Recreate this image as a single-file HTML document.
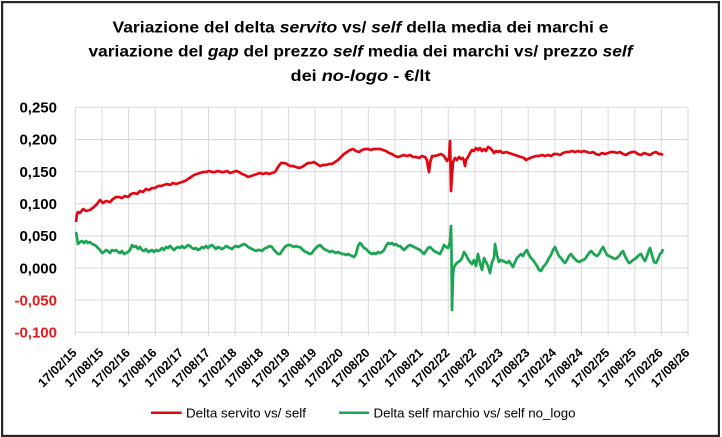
<!DOCTYPE html>
<html><head><meta charset="utf-8">
<style>
html,body{margin:0;padding:0;background:#fff;}
svg{display:block;}
text{font-family:"Liberation Sans",Arial,sans-serif;}
</style></head>
<body>
<svg width="722" height="437" viewBox="0 0 722 437" xmlns="http://www.w3.org/2000/svg">
<rect x="0" y="0" width="722" height="437" fill="#fff"/>
<rect x="2.1" y="2.1" width="716.8" height="433.8" fill="none" stroke="#262626" stroke-width="2.2"/>

<!-- Title -->
<g font-weight="bold" font-size="16" fill="#000" text-anchor="middle">
<text x="360.5" y="32.7" textLength="496" lengthAdjust="spacingAndGlyphs">Variazione del delta <tspan font-style="italic">servito</tspan> vs/ <tspan font-style="italic">self</tspan> della media dei marchi e</text>
<text x="360.5" y="56.5" textLength="544" lengthAdjust="spacingAndGlyphs">variazione del <tspan font-style="italic">gap</tspan> del prezzo <tspan font-style="italic">self</tspan> media dei marchi vs/ prezzo <tspan font-style="italic">self</tspan></text>
<text x="360.5" y="81" textLength="140" lengthAdjust="spacingAndGlyphs">dei <tspan font-style="italic">no-logo</tspan> - €/lt</text>
</g>

<!-- Gridlines -->
<g stroke="#d9d9d9" stroke-width="1">
<line x1="75.3" y1="107.3" x2="688" y2="107.3"/>
<line x1="75.3" y1="139.44" x2="688" y2="139.44"/>
<line x1="75.3" y1="171.59" x2="688" y2="171.59"/>
<line x1="75.3" y1="203.73" x2="688" y2="203.73"/>
<line x1="75.3" y1="235.87" x2="688" y2="235.87"/>
<line x1="75.3" y1="268.01" x2="688" y2="268.01"/>
<line x1="75.3" y1="300.16" x2="688" y2="300.16"/>
<line x1="75.3" y1="332.3" x2="688" y2="332.3"/>
<line x1="75.3" y1="107.3" x2="75.3" y2="336"/>
<line x1="101.94" y1="107.3" x2="101.94" y2="336"/>
<line x1="128.58" y1="107.3" x2="128.58" y2="336"/>
<line x1="155.22" y1="107.3" x2="155.22" y2="336"/>
<line x1="181.86" y1="107.3" x2="181.86" y2="336"/>
<line x1="208.5" y1="107.3" x2="208.5" y2="336"/>
<line x1="235.14" y1="107.3" x2="235.14" y2="336"/>
<line x1="261.78" y1="107.3" x2="261.78" y2="336"/>
<line x1="288.42" y1="107.3" x2="288.42" y2="336"/>
<line x1="315.06" y1="107.3" x2="315.06" y2="336"/>
<line x1="341.7" y1="107.3" x2="341.7" y2="336"/>
<line x1="368.34" y1="107.3" x2="368.34" y2="336"/>
<line x1="394.98" y1="107.3" x2="394.98" y2="336"/>
<line x1="421.62" y1="107.3" x2="421.62" y2="336"/>
<line x1="448.26" y1="107.3" x2="448.26" y2="336"/>
<line x1="474.9" y1="107.3" x2="474.9" y2="336"/>
<line x1="501.54" y1="107.3" x2="501.54" y2="336"/>
<line x1="528.18" y1="107.3" x2="528.18" y2="336"/>
<line x1="554.82" y1="107.3" x2="554.82" y2="336"/>
<line x1="581.46" y1="107.3" x2="581.46" y2="336"/>
<line x1="608.1" y1="107.3" x2="608.1" y2="336"/>
<line x1="634.74" y1="107.3" x2="634.74" y2="336"/>
<line x1="661.38" y1="107.3" x2="661.38" y2="336"/>
<line x1="688.02" y1="107.3" x2="688.02" y2="336"/>
</g>

<!-- Y labels -->
<g font-weight="bold" font-size="15" text-anchor="end">
<text x="57" y="112.6" fill="#000">0,250</text>
<text x="57" y="144.7" fill="#000">0,200</text>
<text x="57" y="176.9" fill="#000">0,150</text>
<text x="57" y="209" fill="#000">0,100</text>
<text x="57" y="241.2" fill="#000">0,050</text>
<text x="57" y="273.3" fill="#000">0,000</text>
<text x="57" y="305.5" fill="#e31b1b">-0,050</text>
<text x="57" y="337.6" fill="#e31b1b">-0,100</text>
</g>

<!-- X labels -->
<g font-weight="bold" font-size="12.5" fill="#000" text-anchor="middle">
<text transform="translate(57.5,367.8) rotate(-45)" dy="4">17/02/15</text>
<text transform="translate(84.14,367.8) rotate(-45)" dy="4">17/08/15</text>
<text transform="translate(110.78,367.8) rotate(-45)" dy="4">17/02/16</text>
<text transform="translate(137.42,367.8) rotate(-45)" dy="4">17/08/16</text>
<text transform="translate(164.06,367.8) rotate(-45)" dy="4">17/02/17</text>
<text transform="translate(190.7,367.8) rotate(-45)" dy="4">17/08/17</text>
<text transform="translate(217.34,367.8) rotate(-45)" dy="4">17/02/18</text>
<text transform="translate(243.98,367.8) rotate(-45)" dy="4">17/08/18</text>
<text transform="translate(270.62,367.8) rotate(-45)" dy="4">17/02/19</text>
<text transform="translate(297.26,367.8) rotate(-45)" dy="4">17/08/19</text>
<text transform="translate(323.9,367.8) rotate(-45)" dy="4">17/02/20</text>
<text transform="translate(350.54,367.8) rotate(-45)" dy="4">17/08/20</text>
<text transform="translate(377.18,367.8) rotate(-45)" dy="4">17/02/21</text>
<text transform="translate(403.82,367.8) rotate(-45)" dy="4">17/08/21</text>
<text transform="translate(430.46,367.8) rotate(-45)" dy="4">17/02/22</text>
<text transform="translate(457.1,367.8) rotate(-45)" dy="4">17/08/22</text>
<text transform="translate(483.74,367.8) rotate(-45)" dy="4">17/02/23</text>
<text transform="translate(510.38,367.8) rotate(-45)" dy="4">17/08/23</text>
<text transform="translate(537.02,367.8) rotate(-45)" dy="4">17/02/24</text>
<text transform="translate(563.66,367.8) rotate(-45)" dy="4">17/08/24</text>
<text transform="translate(590.3,367.8) rotate(-45)" dy="4">17/02/25</text>
<text transform="translate(616.94,367.8) rotate(-45)" dy="4">17/08/25</text>
<text transform="translate(643.58,367.8) rotate(-45)" dy="4">17/02/26</text>
<text transform="translate(670.22,367.8) rotate(-45)" dy="4">17/08/26</text>
</g>

<!-- Red series -->
<polyline fill="none" stroke="#e30613" stroke-width="2.7" stroke-linejoin="round" points="76,222 77,214 78,212 80,213 83,209 86,211 90,210 94,207 97,204 100,200 103,203 106,201 110,202 113,199 116,197 119,197 122,198 125,196 128,197 131,194 134,193 137,194 140,191 143,192 146,189 149,190 152,188 155,188 158,186 161,186 164,185 167,184 170,185 173,183 176,184 179,183 182,182 185,181 188,179 191,177 194,175 197,174 200,173 203,172 206,172 209,171 212,172 215,172 218,171 221,172 224,172 227,171 230,173 233,172 236,171 239,172 242,174 245,175 248,177 251,176 254,175 257,174 260,173 263,174 266,173 269,174 272,173 275,172 278,167 281,163 284,163 287,164 290,166 293,166 296,167 299,168 302,167 305,165 308,163 311,163 314,162 317,164 320,166 323,165 326,165 329,164 332,164 335,162 338,160 341,157 344,154 347,152 350,150 353,149 356,151 359,152 362,150 365,149 368,149 371,150 374,149 377,149 380,149 383,150 386,151 389,153 392,154 395,156 398,157 401,156 404,155 407,156 410,155 413,157 416,157 419,158 422,156 425,157 427,160 428,167 429,172 430,163 432,156 435,156 438,155 441,154 444,156 446,159 447,161 449,158 450,141 450.5,165 451,191 452,175 453,162 455,158 457,160 459,157 461,159 463,158 464,161 465,166 466,160 468,157 470,153 472,150 474,151 476,148 478,150 480,148 482,151 484,149 486,151 488,147 490,148 492,150 494,153 496,151 498,152 500,151 503,153 506,152 509,153 512,154 515,155 518,156 521,157 524,158 526,160 528,159 530,158 533,157 536,156 539,156 542,155 545,156 548,155 551,156 554,154 557,154 560,155 563,153 566,152 569,152 572,151 575,152 578,151 581,152 584,151 587,152 590,153 593,152 596,154 599,155 602,153 605,154 608,153 611,152 614,152 617,153 620,152 623,154 626,155 629,153 632,152 635,152 638,154 641,155 644,153 647,154 650,155 653,153 656,152 659,154 661,154 663,155"/>

<!-- Green series -->
<polyline fill="none" stroke="#1ba552" stroke-width="2.7" stroke-linejoin="round" points="76,232 77,238 78,244 80,242 82,241 84,243 86,241 88,243 90,242 92,244 95,245 98,248 100,250 102,253 104,252 106,250 108,251 110,253 112,250 114,251 116,250 118,252 120,253 122,251 124,254 126,253 128,252 130,250 132,245 134,247 136,246 138,249 140,247 142,250 144,251 146,249 148,252 150,251 152,250 154,252 156,250 158,251 160,250 162,248 164,250 166,247 168,248 170,246 172,248 174,250 176,248 178,247 180,248 182,246 184,248 186,247 188,245 190,246 192,248 194,249 196,248 198,250 200,249 202,247 204,248 206,246 208,248 210,246 212,245 214,247 216,249 218,247 220,248 222,249 224,248 226,246 228,247 230,248 232,249 234,247 236,246 238,247 240,246 242,245 244,244 246,245 248,247 250,248 252,249 254,250 256,251 258,250 260,250 262,251 264,249 266,248 268,247 270,246 272,247 274,250 276,252 278,254 280,254 282,251 284,248 286,246 288,245 290,245 292,246 294,247 296,246 298,247 300,247 302,249 304,251 306,252 308,253 310,254 312,253 314,250 316,248 318,246 320,245 322,247 324,249 326,250 328,251 330,252 332,251 334,252 336,253 338,252 340,253 342,254 344,254 346,255 348,254 350,255 352,256 354,257 356,254 358,246 360,243 362,245 364,248 366,249 368,251 370,253 372,254 374,253 376,254 378,252 380,253 382,252 384,250 386,246 388,243 390,244 392,243 394,245 396,244 398,246 400,246 402,248 404,250 406,248 408,246 410,245 412,246 414,247 416,248 418,249 420,250 422,252 424,254 426,251 428,248 430,247 432,249 434,251 436,252 438,253 440,254 442,250 444,245 446,247 448,248 450,242 451,226 451.5,250 452,310 453,275 454,267 456,264 458,262 460,261 462,258 464,252 466,255 468,259 470,262 472,264 474,260 476,266 478,254 480,263 482,270 484,258 486,262 488,266 490,273 492,262 494,258 495,244 497,255 499,262 501,260 503,261 505,262 507,263 509,261 511,264 513,267 515,262 517,258 519,256 521,254 523,256 525,252 527,250 529,255 531,258 533,260 535,263 537,266 539,270 541,271 543,267 545,265 547,262 549,258 551,255 553,250 555,247 557,252 559,256 561,258 563,261 565,263 567,260 569,256 571,254 573,257 575,259 577,261 579,262 581,261 583,260 585,259 587,256 589,253 591,251 593,253 595,255 597,256 599,254 601,250 603,247 605,251 607,255 609,256 611,257 613,258 615,259 617,258 619,256 621,253 623,251 625,256 627,260 629,263 631,262 633,260 635,259 637,257 639,255 641,254 643,258 645,261 647,256 649,250 650,248 652,255 654,262 656,263 658,259 660,254 662,252 663,249"/>

<!-- Legend -->
<line x1="151" y1="412.7" x2="181.7" y2="412.7" stroke="#e30613" stroke-width="2.5"/>
<text x="186" y="417.3" font-size="13" fill="#000" textLength="120" lengthAdjust="spacingAndGlyphs">Delta servito vs/ self</text>
<line x1="339" y1="412.7" x2="369" y2="412.7" stroke="#1ba552" stroke-width="2.5"/>
<text x="373.5" y="417.3" font-size="13" fill="#000" textLength="202" lengthAdjust="spacingAndGlyphs">Delta self marchio vs/ self no_logo</text>
</svg>
</body></html>
